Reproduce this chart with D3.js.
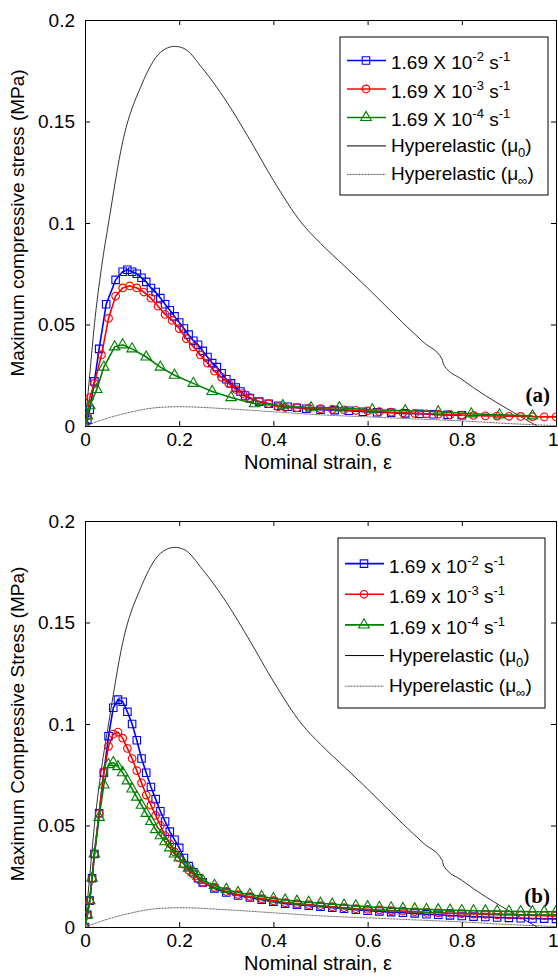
<!DOCTYPE html>
<html><head><meta charset="utf-8">
<script src="https://cdn.jsdelivr.net/npm/d3@7"></script>
<style>body{margin:0;background:#fff}text{font-family:"Liberation Sans",Arial,sans-serif}</style>
</head><body><div id="chart"></div>
<script>
// ---- data ----
var xTicks = [0, 0.2, 0.4, 0.6, 0.8, 1];
var yTicks = [0, 0.05, 0.1, 0.15, 0.2];
var xTickLabels = ["0", "0.2", "0.4", "0.6", "0.8", "1"];
var yTickLabels = ["0", "0.05", "0.1", "0.15", "0.2"];

var hyper0X = [0,0.01,0.02,0.035,0.05,0.08,0.12,0.16,0.19,0.21,0.25,0.3,0.35,0.4,0.46,0.5,0.55,0.6,0.674,0.72,0.758,0.762,0.8,0.85,0.9,0.96];
var hyper0Y = [0,0.025,0.05,0.078,0.1,0.14,0.168,0.184,0.187,0.186,0.176,0.16,0.141,0.121,0.1,0.09,0.079,0.068,0.051,0.041,0.033,0.03,0.023,0.015,0.008,0];
var hyperInfX = [0,0.05,0.1,0.15,0.2,0.3,0.4,0.5,0.6,0.7,0.8,0.9,1];
var hyperInfY = [0,0.004,0.007,0.009,0.0095,0.0085,0.007,0.0055,0.0045,0.0035,0.0025,0.0012,0.0002];

// panel (a)
var aBlueX = [0,0.005,0.01,0.02,0.03,0.045,0.065,0.08,0.09,0.1,0.11,0.12,0.13,0.14,0.15,0.16,0.17,0.18,0.19,0.2,0.21,0.22,0.23,0.24,0.25,0.26,0.27,0.28,0.29,0.3,0.31,0.32,0.33,0.34,0.35,0.37,0.39,0.41,0.43,0.45,0.47,0.5,0.53,0.56,0.59,0.62,0.65,0.68,0.71,0.74,0.77,0.8];
var aBlueY = [0,0.003,0.008,0.022,0.038,0.06,0.072,0.076,0.077,0.076,0.075,0.073,0.071,0.068,0.066,0.063,0.06,0.057,0.054,0.051,0.048,0.045,0.042,0.04,0.037,0.034,0.031,0.029,0.026,0.023,0.021,0.019,0.017,0.015,0.0136,0.012,0.011,0.01,0.0095,0.009,0.0085,0.008,0.0078,0.0075,0.007,0.0068,0.0065,0.0062,0.006,0.0058,0.0055,0.0053];
var aRedX = [0,0.005,0.01,0.02,0.035,0.05,0.065,0.08,0.095,0.11,0.125,0.14,0.155,0.17,0.185,0.2,0.215,0.23,0.245,0.26,0.275,0.29,0.305,0.32,0.335,0.35,0.37,0.39,0.41,0.425,0.45,0.475,0.5,0.525,0.55,0.575,0.6,0.625,0.65,0.675,0.7,0.725,0.75,0.775,0.8,0.825,0.85,0.875,0.9,0.925,0.95,0.975,1.0];
var aRedY = [0,0.005,0.014,0.021,0.035,0.053,0.064,0.068,0.069,0.068,0.066,0.063,0.059,0.055,0.052,0.048,0.043,0.039,0.035,0.031,0.027,0.024,0.021,0.018,0.016,0.014,0.012,0.011,0.0095,0.0092,0.009,0.0088,0.0085,0.0082,0.008,0.0077,0.0074,0.0071,0.0068,0.0065,0.0062,0.006,0.0058,0.0056,0.0054,0.0052,0.005,0.0049,0.0048,0.0047,0.0046,0.0045,0.0045];
var aGreenX = [0,0.005,0.01,0.025,0.04,0.063,0.08,0.1,0.13,0.16,0.19,0.23,0.27,0.31,0.36,0.42,0.48,0.54,0.61,0.68,0.75,0.82,0.88,0.95];
var aGreenY = [0,0.005,0.01,0.018,0.029,0.039,0.04,0.038,0.034,0.029,0.025,0.021,0.017,0.014,0.011,0.01,0.009,0.009,0.008,0.0075,0.007,0.006,0.0055,0.005];

// panel (b)
var bX = [0,0.005,0.01,0.015,0.02,0.03,0.04,0.05,0.06,0.07,0.08,0.09,0.1,0.11,0.12,0.13,0.14,0.15,0.16,0.17,0.18,0.19,0.2,0.21,0.22,0.23,0.24,0.25,0.275,0.3,0.325,0.35,0.375,0.4,0.425,0.45,0.475,0.5,0.525,0.55,0.575,0.6,0.625,0.65,0.675,0.7,0.725,0.75,0.775,0.8,0.825,0.85,0.875,0.9,0.925,0.95,0.975,1.0];
var bBlueY = [0,0.006,0.013,0.024,0.036,0.056,0.076,0.094,0.108,0.112,0.111,0.106,0.1,0.092,0.083,0.076,0.069,0.063,0.057,0.052,0.047,0.043,0.039,0.034,0.03,0.027,0.024,0.022,0.019,0.017,0.0155,0.0145,0.0135,0.0125,0.0115,0.011,0.0105,0.01,0.0095,0.009,0.0085,0.008,0.0077,0.0073,0.007,0.0067,0.0063,0.006,0.0057,0.0054,0.0051,0.0049,0.0047,0.0045,0.0043,0.0042,0.0041,0.004];
var bRedY = [0,0.006,0.013,0.024,0.036,0.056,0.076,0.089,0.095,0.096,0.093,0.088,0.083,0.077,0.071,0.065,0.06,0.055,0.05,0.045,0.041,0.037,0.034,0.031,0.028,0.026,0.024,0.022,0.0195,0.0175,0.016,0.015,0.014,0.013,0.012,0.0115,0.011,0.0105,0.01,0.0095,0.009,0.0087,0.0084,0.0081,0.0078,0.0075,0.0072,0.007,0.0068,0.0066,0.0064,0.0062,0.006,0.0059,0.0058,0.0057,0.0056,0.0055];
var bGreenY = [0,0.006,0.013,0.024,0.036,0.054,0.07,0.08,0.081,0.079,0.076,0.072,0.068,0.064,0.06,0.056,0.052,0.048,0.045,0.042,0.039,0.036,0.034,0.031,0.029,0.027,0.025,0.023,0.0205,0.0185,0.017,0.016,0.015,0.014,0.0133,0.0127,0.0122,0.0117,0.0112,0.0108,0.0104,0.01,0.0097,0.0094,0.0091,0.0089,0.0087,0.0085,0.0083,0.0081,0.008,0.0079,0.0078,0.0077,0.0076,0.0075,0.0075,0.0075];

var rates = ["-2", "-3", "-4"];

function zip(xs, ys) { return xs.map(function (x, i) { return [x, ys[i]]; }); }

var svg = d3.select("#chart").append("svg").attr("width", 558).attr("height", 978);

function drawPanel(top, opts) {
    var x = d3.scaleLinear().domain([0, 1]).range([85, 556]);
    var y = d3.scaleLinear().domain([0, 0.2]).range([top + 406, top]);
    var g = svg.append("g");
    var clip = "clip" + top;
    g.append("clipPath").attr("id", clip).append("rect")
        .attr("x", 85).attr("y", top).attr("width", 471).attr("height", 406);

    // axes with inward ticks on all four sides
    var bottom = g.append("g").attr("transform", "translate(0," + (top + 406) + ")")
        .call(d3.axisBottom(x).tickValues(xTicks).tickSizeInner(-5).tickSizeOuter(0).tickPadding(5)
            .tickFormat(function (d, i) { return xTickLabels[i]; }));
    g.append("g").attr("transform", "translate(85,0)")
        .call(d3.axisLeft(y).tickValues(yTicks).tickSizeInner(-5).tickSizeOuter(0).tickPadding(10)
            .tickFormat(function (d, i) { return yTickLabels[i]; }));
    g.append("g").attr("transform", "translate(0," + top + ")")
        .call(d3.axisTop(x).tickValues(xTicks).tickSizeInner(-5).tickSizeOuter(0).tickFormat(""));
    g.append("g").attr("transform", "translate(556,0)")
        .call(d3.axisRight(y).tickValues(yTicks).tickSizeInner(-5).tickSizeOuter(0).tickFormat(""));
    g.selectAll(".tick text").attr("font-size", 19).attr("fill", "#000")
        .style("font-family", "Liberation Sans, Arial, sans-serif");
    bottom.selectAll(".tick text").attr("dy", "0.8em");
    bottom.selectAll(".tick:last-of-type text").attr("text-anchor", "end").attr("dx", 2);
    g.selectAll(".domain, .tick line").attr("stroke", "#000");

    g.append("text").attr("x", 318).attr("y", top + 449).attr("text-anchor", "middle")
        .attr("font-size", 20).text("Nominal strain, \u03b5");
    g.append("text").attr("transform", "translate(24," + (top + 203) + ") rotate(-90)")
        .attr("text-anchor", "middle").attr("font-size", 19).text(opts.ylabel);
    g.append("text").attr("x", 550).attr("y", top + 382).attr("text-anchor", "end")
        .attr("font-size", 21).attr("font-weight", "bold")
        .style("font-family", "Liberation Serif, Times New Roman, serif").text(opts.tag);

    var line = d3.line().x(function (d) { return x(d[0]); }).y(function (d) { return y(d[1]); });
    var smooth = d3.line().curve(d3.curveMonotoneX).x(function (d) { return x(d[0]); }).y(function (d) { return y(d[1]); });
    var plot = g.append("g").attr("clip-path", "url(#" + clip + ")");

    plot.append("path").datum(zip(hyper0X, hyper0Y)).attr("d", smooth)
        .attr("fill", "none").attr("stroke", "#000").attr("stroke-width", 0.8);
    plot.append("path").datum(zip(hyperInfX, hyperInfY)).attr("d", smooth)
        .attr("fill", "none").attr("stroke", "#555").attr("stroke-width", 1).attr("stroke-dasharray", "1,0.5");

    var sym = {
        square: d3.symbol().type(d3.symbolSquare).size(56),
        circle: d3.symbol().type(d3.symbolCircle).size(46),
        triangle: d3.symbol().type(d3.symbolTriangle).size(48)
    };
    opts.series.forEach(function (s) {
        var data = zip(s.x, s.y);
        plot.append("path").datum(data).attr("d", line)
            .attr("fill", "none").attr("stroke", s.color).attr("stroke-width", 1.6);
        plot.selectAll(null).data(data).enter().append("path")
            .attr("d", sym[s.marker])
            .attr("transform", function (d) { return "translate(" + x(d[0]) + "," + y(d[1]) + ")"; })
            .attr("fill", "none").attr("stroke", s.color).attr("stroke-width", 1.1);
    });

    // legend
    var L = opts.legend;
    g.append("rect").attr("x", L.x).attr("y", top + L.y).attr("width", L.w).attr("height", L.h)
        .attr("fill", "#fff").attr("stroke", "#000").attr("stroke-width", 1);
    var rows = [31, 62, 93, 124, 155].map(function (d) { return top + L.y + d * L.h / 172; });
    opts.series.forEach(function (s, i) {
        var ry = rows[i] - 5;
        g.append("line").attr("x1", L.x + 7).attr("x2", L.x + 46).attr("y1", ry).attr("y2", ry)
            .attr("stroke", s.color).attr("stroke-width", 1.6);
        g.append("path").attr("d", sym[s.marker]).attr("transform", "translate(" + (L.x + 26) + "," + ry + ")")
            .attr("fill", "none").attr("stroke", s.color).attr("stroke-width", 1.1);
        var t = g.append("text").attr("x", L.x + 51).attr("y", rows[i] + 4).attr("font-size", 19);
        t.append("tspan").text("1.69 " + opts.times + " 10");
        t.append("tspan").attr("dy", -8).attr("font-size", 13).text(rates[i]);
        t.append("tspan").attr("dy", 8).text(" s");
        t.append("tspan").attr("dy", -8).attr("font-size", 13).text("-1");
    });
    [["0", "#000", "none"], ["\u221e", "#555", "1,0.5"]].forEach(function (h, j) {
        var ry = rows[3 + j] - 5;
        g.append("line").attr("x1", L.x + 7).attr("x2", L.x + 46).attr("y1", ry).attr("y2", ry)
            .attr("stroke", h[1]).attr("stroke-width", 1).attr("stroke-dasharray", h[2]);
        var t = g.append("text").attr("x", L.x + 51).attr("y", rows[3 + j] + 1).attr("font-size", 19);
        t.append("tspan").text("Hyperelastic (\u03bc");
        t.append("tspan").attr("dy", 5).attr("font-size", 13).text(h[0]);
        t.append("tspan").attr("dy", -5).text(")");
    });
}

drawPanel(20, {
    ylabel: "Maximum compressive stress (MPa)", tag: "(a)", times: "X",
    legend: { x: 340, y: 17, w: 208, h: 158 },
    series: [
        { x: aBlueX, y: aBlueY, color: "#0000ff", marker: "square" },
        { x: aRedX, y: aRedY, color: "#ff0000", marker: "circle" },
        { x: aGreenX, y: aGreenY, color: "#008000", marker: "triangle" }
    ]
});
drawPanel(521, {
    ylabel: "Maximum Compressive Stress (MPa)", tag: "(b)", times: "x",
    legend: { x: 338, y: 17, w: 207, h: 170 },
    series: [
        { x: bX, y: bBlueY, color: "#0000ff", marker: "square" },
        { x: bX, y: bRedY, color: "#ff0000", marker: "circle" },
        { x: bX, y: bGreenY, color: "#008000", marker: "triangle" }
    ]
});
</script></body></html>
